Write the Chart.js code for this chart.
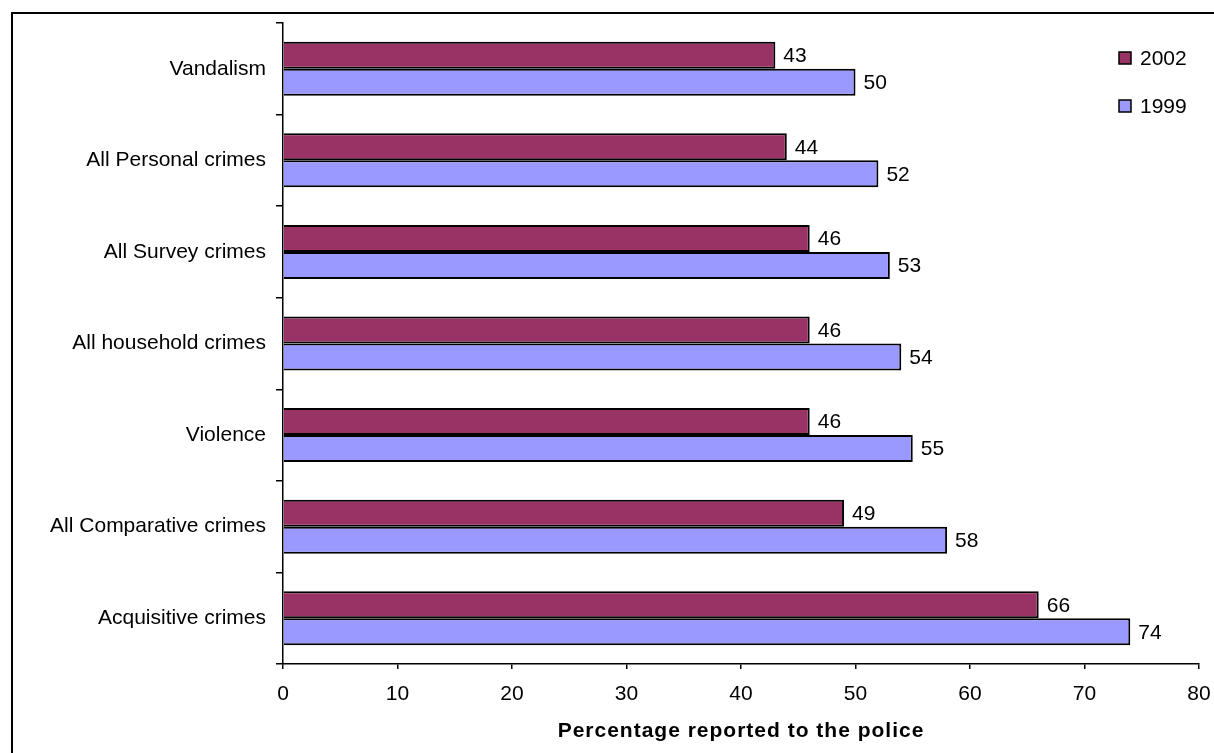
<!DOCTYPE html>
<html>
<head>
<meta charset="utf-8">
<script src="https://cdn.jsdelivr.net/npm/chart.js@4"></script>
<style>
  html, body { margin: 0; padding: 0; background: #fff; overflow: hidden; }
  #wrap { position: relative; width: 1214px; height: 753px; }
  #frame {
    position: absolute; left: 11px; top: 12px; width: 1300px; height: 800px;
    border-left: 2px solid #000; border-top: 2px solid #000; pointer-events: none;
  }
  canvas { position: absolute; left: 0; top: 0; }
</style>
</head>
<body>
<div id="wrap">
  <canvas id="myChart" width="1214" height="753"></canvas>
  <div id="frame"></div>
</div>
<script>
const categories = ['Vandalism', 'All Personal crimes', 'All Survey crimes', 'All household crimes',
  'Violence', 'All Comparative crimes', 'Acquisitive crimes'];
const values2002 = [43, 44, 46, 46, 46, 49, 66];
const values1999 = [50, 52, 53, 54, 55, 58, 74];
const xTicks = [0, 10, 20, 30, 40, 50, 60, 70, 80];
const xTitle = 'Percentage reported to the police';

const FONT = 'Liberation Sans, Arial, sans-serif';

// value labels just past the end of each bar
const barLabels = {
  id: 'barLabels',
  afterDatasetsDraw(chart) {
    const ctx = chart.ctx;
    ctx.save();
    ctx.font = '21px ' + FONT;
    ctx.fillStyle = '#000';
    ctx.textAlign = 'left';
    ctx.textBaseline = 'middle';
    chart.data.datasets.forEach((ds, i) => {
      chart.getDatasetMeta(i).data.forEach((bar, j) => {
        ctx.fillText(ds.data[j], bar.x + 8, bar.y + 1);
      });
    });
    ctx.restore();
  }
};

// small square legend in the top right corner + spaced-out axis title
const extras = {
  id: 'extras',
  afterDraw(chart) {
    const ctx = chart.ctx;
    const rows = [58, 106];
    ctx.save();
    ctx.font = '21px ' + FONT;
    ctx.textBaseline = 'middle';
    chart.data.datasets.forEach((ds, i) => {
      const y = rows[i];
      ctx.fillStyle = ds.backgroundColor;
      ctx.fillRect(1119, y - 6, 12, 12);
      ctx.lineWidth = 1.5;
      ctx.strokeStyle = '#000';
      ctx.strokeRect(1119, y - 6, 12, 12);
      ctx.fillStyle = '#000';
      ctx.fillText(ds.label, 1140, y + 1);
    });

    const area = chart.chartArea;
    ctx.font = 'bold 21px ' + FONT;
    ctx.letterSpacing = '1px';
    ctx.textAlign = 'center';
    ctx.fillText(xTitle, (area.left + area.right) / 2, 731);
    ctx.restore();
  }
};

const data = {
  labels: categories,
  datasets: [{
    label: '2002',
    data: values2002,
    backgroundColor: '#993366',
    borderColor: '#000',
    borderWidth: 2,
    borderSkipped: 'start'
  }, {
    label: '1999',
    data: values1999,
    backgroundColor: '#9999FF',
    borderColor: '#000',
    borderWidth: 2,
    borderSkipped: 'start'
  }]
};

const config = {
  type: 'bar',
  data: data,
  options: {
    indexAxis: 'y',
    responsive: false,
    animation: false,
    categoryPercentage: 0.59,
    barPercentage: 1,
    layout: { padding: { top: 23, right: 15, left: 0, bottom: 0 } },
    plugins: {
      legend: { display: false },
      tooltip: { enabled: false }
    },
    scales: {
      x: {
        min: 0,
        max: 80,
        afterBuildTicks(scale) {
          scale.ticks = xTicks.map(v => ({ value: v }));
        },
        afterFit(scale) {
          scale.height = 89;
          scale.paddingLeft = 0;
          scale.paddingRight = 0;
        },
        border: { display: true, color: '#000', width: 1.5 },
        grid: { drawOnChartArea: false, drawTicks: true, tickLength: 5, color: '#000', lineWidth: 1.5 },
        ticks: { color: '#000', padding: 13, font: { family: FONT, size: 21 } }
      },
      y: {
        afterFit(scale) {
          scale.width = 283;
          scale.paddingTop = 0;
          scale.paddingBottom = 0;
        },
        border: { display: true, color: '#000', width: 1.5 },
        grid: { drawOnChartArea: false, drawTicks: true, tickLength: 7, color: '#000', lineWidth: 1.5 },
        ticks: { color: '#000', padding: 10, font: { family: FONT, size: 21 } }
      }
    }
  },
  plugins: [barLabels, extras]
};

const myChart = new Chart(document.getElementById('myChart'), config);
</script>
</body>
</html>
